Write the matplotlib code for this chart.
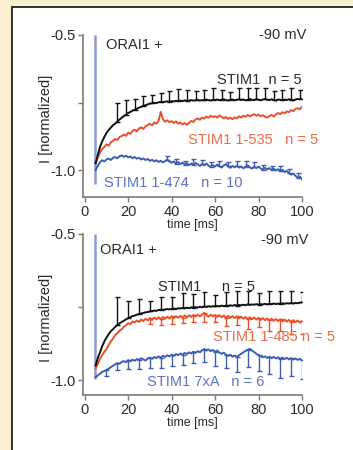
import numpy as np
import matplotlib
matplotlib.use("Agg")
import matplotlib.pyplot as plt
from matplotlib.patches import Rectangle

plt.rcParams['font.family'] = ['Liberation Sans', 'DejaVu Sans']
plt.rcParams['axes.unicode_minus'] = False

# ---------------- data ----------------
t = np.arange(5, 101)  # time [ms]

top_stim1 = [-0.975, -0.945, -0.915, -0.895, -0.878, -0.863, -0.852, -0.843, -0.834, -0.828,
             -0.821, -0.813, -0.807, -0.800, -0.795, -0.789, -0.785, -0.780, -0.777, -0.773,
             -0.769, -0.766, -0.762, -0.760, -0.757, -0.754, -0.753, -0.751, -0.752, -0.749,
             -0.748, -0.749, -0.747, -0.746, -0.747, -0.745, -0.746, -0.744, -0.745, -0.743,
             -0.745, -0.742, -0.744, -0.743, -0.741, -0.743, -0.742, -0.740, -0.743, -0.741,
             -0.742, -0.739, -0.741, -0.743, -0.740, -0.741, -0.739, -0.742, -0.740, -0.738,
             -0.741, -0.743, -0.740, -0.739, -0.742, -0.740, -0.738, -0.741, -0.739, -0.742,
             -0.740, -0.737, -0.740, -0.741, -0.738, -0.740, -0.742, -0.739, -0.737, -0.740,
             -0.741, -0.738, -0.741, -0.743, -0.739, -0.740, -0.742, -0.739, -0.741, -0.738,
             -0.740, -0.742, -0.739, -0.737, -0.738, -0.736]
top_535 = [-0.975, -0.955, -0.935, -0.922, -0.915, -0.905, -0.910, -0.898, -0.892, -0.885,
           -0.889, -0.878, -0.874, -0.869, -0.873, -0.862, -0.866, -0.855, -0.851, -0.857,
           -0.846, -0.842, -0.848, -0.838, -0.833, -0.829, -0.835, -0.824, -0.828, -0.818,
           -0.785, -0.812, -0.821, -0.816, -0.823, -0.819, -0.826, -0.820, -0.828, -0.824,
           -0.831, -0.826, -0.833, -0.825, -0.818, -0.822, -0.813, -0.809, -0.814, -0.806,
           -0.810, -0.802, -0.807, -0.799, -0.804, -0.801, -0.806, -0.798, -0.803, -0.809,
           -0.804, -0.811, -0.806, -0.812, -0.805, -0.808, -0.801, -0.806, -0.799, -0.803,
           -0.796, -0.801, -0.797, -0.793, -0.799, -0.795, -0.801, -0.797, -0.803, -0.806,
           -0.800, -0.796, -0.802, -0.794, -0.789, -0.793, -0.786, -0.790, -0.783, -0.786,
           -0.778, -0.782, -0.774, -0.771, -0.775, -0.766]
top_474 = [-1.000, -0.985, -0.972, -0.964, -0.968, -0.961, -0.958, -0.963, -0.955, -0.952,
           -0.957, -0.949, -0.946, -0.951, -0.947, -0.953, -0.950, -0.956, -0.952, -0.958,
           -0.955, -0.961, -0.957, -0.963, -0.959, -0.966, -0.962, -0.968, -0.964, -0.970,
           -0.966, -0.972, -0.967, -0.962, -0.969, -0.973, -0.968, -0.976, -0.971, -0.978,
           -0.973, -0.980, -0.975, -0.982, -0.976, -0.981, -0.974, -0.979, -0.985, -0.978,
           -0.983, -0.976, -0.984, -0.989, -0.982, -0.987, -0.980, -0.986, -0.991, -0.983,
           -0.978, -0.986, -0.992, -0.985, -0.990, -0.984, -0.991, -0.987, -0.994, -0.988,
           -0.983, -0.990, -0.995, -0.988, -0.993, -0.987, -0.994, -0.999, -0.992, -0.998,
           -0.993, -1.000, -0.995, -1.002, -0.997, -1.004, -0.999, -1.008, -1.003, -1.012,
           -1.017, -1.013, -1.022, -1.028, -1.024, -1.035]

top_err_t_stim1 = [15, 19, 23, 27, 31, 35, 39, 43, 47, 51, 55, 59, 63, 67, 71, 75, 79, 83, 87, 91, 95, 99]
top_err_stim1 = [0.07, 0.055, 0.04, 0.035, 0.03, 0.035, 0.04, 0.045, 0.04, 0.035, 0.04,
                 0.045, 0.035, 0.03, 0.04, 0.045, 0.04, 0.04, 0.035, 0.04, 0.045, 0.035]
top_err_t_474 = [38, 42, 46, 50, 54, 58, 62, 66, 70, 74, 78, 82, 86, 90, 94, 98]
top_err_474 = [0.015, 0.018, 0.015, 0.02, 0.016, 0.018, 0.02, 0.015, 0.018, 0.02,
               0.016, 0.018, 0.015, 0.02, 0.016, 0.018]

bot_stim1 = [-0.950, -0.925, -0.905, -0.885, -0.868, -0.855, -0.843, -0.833, -0.826, -0.818,
             -0.812, -0.806, -0.801, -0.797, -0.792, -0.788, -0.785, -0.781, -0.779, -0.776,
             -0.774, -0.772, -0.770, -0.768, -0.767, -0.765, -0.764, -0.762, -0.763, -0.760,
             -0.759, -0.760, -0.758, -0.757, -0.758, -0.756, -0.755, -0.757, -0.754, -0.755,
             -0.753, -0.754, -0.752, -0.754, -0.751, -0.752, -0.750, -0.752, -0.749, -0.751,
             -0.748, -0.750, -0.747, -0.749, -0.747, -0.748, -0.746, -0.748, -0.745, -0.747,
             -0.745, -0.746, -0.744, -0.746, -0.743, -0.745, -0.743, -0.744, -0.742, -0.744,
             -0.741, -0.743, -0.741, -0.742, -0.740, -0.742, -0.740, -0.741, -0.739, -0.741,
             -0.739, -0.740, -0.738, -0.740, -0.738, -0.739, -0.737, -0.739, -0.737, -0.738,
             -0.736, -0.738, -0.736, -0.737, -0.735, -0.734]
bot_485 = [-0.960, -0.945, -0.928, -0.915, -0.903, -0.894, -0.880, -0.868, -0.858, -0.846,
           -0.840, -0.831, -0.826, -0.818, -0.812, -0.805, -0.809, -0.799, -0.803, -0.796,
           -0.801, -0.793, -0.798, -0.790, -0.796, -0.788, -0.794, -0.786, -0.792, -0.785,
           -0.791, -0.784, -0.790, -0.783, -0.789, -0.782, -0.788, -0.781, -0.787, -0.780,
           -0.786, -0.779, -0.785, -0.778, -0.784, -0.777, -0.783, -0.776, -0.782, -0.776,
           -0.770, -0.777, -0.783, -0.776, -0.782, -0.777, -0.784, -0.778, -0.785, -0.779,
           -0.786, -0.780, -0.787, -0.781, -0.788, -0.782, -0.789, -0.783, -0.790, -0.784,
           -0.791, -0.785, -0.792, -0.786, -0.793, -0.787, -0.794, -0.788, -0.795, -0.789,
           -0.796, -0.790, -0.797, -0.791, -0.798, -0.792, -0.799, -0.793, -0.800, -0.794,
           -0.801, -0.795, -0.802, -0.796, -0.803, -0.798]
bot_7xa = [-0.990, -0.984, -0.978, -0.972, -0.969, -0.965, -0.961, -0.956, -0.951, -0.946,
           -0.942, -0.944, -0.938, -0.935, -0.939, -0.932, -0.936, -0.930, -0.934, -0.928,
           -0.931, -0.925, -0.929, -0.933, -0.926, -0.923, -0.927, -0.921, -0.925, -0.919,
           -0.923, -0.917, -0.921, -0.915, -0.919, -0.913, -0.917, -0.911, -0.915, -0.909,
           -0.913, -0.907, -0.911, -0.905, -0.909, -0.903, -0.907, -0.901, -0.905, -0.898,
           -0.894, -0.899, -0.895, -0.901, -0.897, -0.903, -0.899, -0.906, -0.910, -0.906,
           -0.913, -0.917, -0.913, -0.920, -0.916, -0.921, -0.915, -0.910, -0.905, -0.900,
           -0.896, -0.893, -0.899, -0.904, -0.910, -0.914, -0.918, -0.922, -0.919, -0.924,
           -0.920, -0.925, -0.921, -0.926, -0.922, -0.927, -0.923, -0.928, -0.924, -0.929,
           -0.925, -0.930, -0.926, -0.931, -0.927, -0.932]

bot_err_t_stim1 = [15, 20, 25, 30, 35, 40, 45, 50, 55, 60, 65, 70, 75, 80, 85, 90, 95, 100]
bot_err_stim1 = [0.095, 0.06, 0.05, 0.035, 0.045, 0.04, 0.05, 0.045, 0.05, 0.04, 0.045,
                 0.05, 0.045, 0.04, 0.045, 0.045, 0.04, 0.035]
bot_err_t_485 = [30, 35, 40, 45, 50, 55, 60, 65, 70, 75, 80, 85, 90, 95, 100]
bot_err_485 = [0.02, 0.02, 0.025, 0.02, 0.025, 0.03, 0.025, 0.03, 0.03, 0.035, 0.03,
               0.035, 0.04, 0.04, 0.045]
bot_err_t_7xa = [10, 15, 20, 25, 30, 35, 40, 45, 50, 55, 60, 65, 70, 75, 80, 85, 90, 95, 100]
bot_err_7xa = [0.02, 0.025, 0.03, 0.03, 0.035, 0.035, 0.04, 0.035, 0.04, 0.045, 0.05,
               0.045, 0.05, 0.06, 0.055, 0.06, 0.065, 0.06, 0.065]

stim_time = 4.6
xticks = [0, 20, 40, 60, 80, 100]
yticks = [-1.0, -0.75, -0.5]
yticklabels = ['-1.0', '', '-0.5']

# ---------------- style ----------------
C_BLACK = '#111111'
C_RED = '#e8502a'
C_BLUE = '#3d5cb2'
C_RED_TXT = '#ec6a45'
C_BLUE_TXT = '#5d72c2'
C_STIM = '#8c9bd0'
C_SPINE = '#7a7a7a'
C_TEXT = '#2a2a2a'
FS = 10.5

fig = plt.figure(figsize=(3.53, 4.50), dpi=100, facecolor='#faefcf')
fig.patches.append(Rectangle((11.5 / 353, -0.05), 1.2, 1.05 - 6.5 / 450,
                             transform=fig.transFigure, facecolor='white',
                             edgecolor='#222222', linewidth=1.3, zorder=-10))


def err_points(t_list, series):
    idx = [int(np.where(t == tt)[0][0]) for tt in t_list]
    return np.array(series)[idx]


def style_axes(ax, ylim):
    ax.set_xlim(-0.8, 100)
    ax.set_ylim(*ylim)
    for s in ['top', 'right']:
        ax.spines[s].set_visible(False)
    for s in ['left', 'bottom']:
        ax.spines[s].set_color(C_SPINE)
        ax.spines[s].set_linewidth(1.2)
    ax.set_xticks(xticks)
    ax.set_yticks(yticks)
    ax.set_yticklabels(yticklabels)
    ax.tick_params(axis='both', colors=C_SPINE, labelcolor=C_TEXT, labelsize=FS,
                   length=3.5, width=1.0, pad=2)
    ax.set_xlabel('time [ms]', fontsize=9, color=C_TEXT, labelpad=0)
    ax.set_ylabel('I [normalized]', fontsize=10.5, color=C_TEXT)
    ax.yaxis.set_label_coords(-0.135, 0.48)
    ax.patch.set_alpha(0)


def up_err(ax, t_list, series, err, color):
    y = err_points(t_list, series)
    ax.errorbar(t_list, y, yerr=[np.zeros(len(err)), err], fmt='none',
                ecolor=color, elinewidth=1.0, capsize=1.8, capthick=1.0, zorder=3)


def down_err(ax, t_list, series, err, color):
    y = err_points(t_list, series)
    ax.errorbar(t_list, y, yerr=[err, np.zeros(len(err))], fmt='none',
                ecolor=color, elinewidth=1.0, capsize=1.8, capthick=1.0, zorder=3)


# ---------------- top panel ----------------
ax1 = fig.add_axes([83 / 353, 1 - 197 / 450, 219 / 353, 162 / 450])
style_axes(ax1, (-1.1, -0.5))
ax1.vlines(stim_time, -1.05, -0.5, color=C_STIM, lw=1.8, zorder=1)
ax1.plot(t, top_474, color=C_BLUE, lw=1.4, zorder=2)
ax1.plot(t, top_535, color=C_RED, lw=1.4, zorder=2)
ax1.plot(t, top_stim1, color=C_BLACK, lw=1.4, zorder=4)
up_err(ax1, top_err_t_stim1, top_stim1, top_err_stim1, C_BLACK)
up_err(ax1, top_err_t_474, top_474, top_err_474, C_BLUE)

ax1.text(102, -0.5, '-90 mV', ha='right', va='center', fontsize=FS, color=C_TEXT)
ax1.text(9.7, -0.537, 'ORAI1 +', ha='left', va='center', fontsize=FS, color=C_TEXT)
ax1.text(100, -0.667, 'STIM1  n = 5', ha='right', va='center', fontsize=FS, color=C_TEXT)
ax1.text(107.4, -0.889, 'STIM1 1-535   n = 5', ha='right', va='center', fontsize=FS,
         color=C_RED_TXT, clip_on=False)
ax1.text(8.8, -1.048, 'STIM1 1-474   n = 10', ha='left', va='center', fontsize=FS,
         color=C_BLUE_TXT)

# ---------------- bottom panel ----------------
ax2 = fig.add_axes([83 / 353, 1 - 395 / 450, 219 / 353, 161 / 450])
style_axes(ax2, (-1.051, -0.5))
ax2.vlines(stim_time, -0.995, -0.5, color=C_STIM, lw=1.8, zorder=1)
ax2.plot(t, bot_7xa, color=C_BLUE, lw=1.4, zorder=2)
ax2.plot(t, bot_485, color=C_RED, lw=1.4, zorder=2)
ax2.plot(t, bot_stim1, color=C_BLACK, lw=1.4, zorder=4)
up_err(ax2, bot_err_t_stim1, bot_stim1, bot_err_stim1, C_BLACK)
down_err(ax2, bot_err_t_485, bot_485, bot_err_485, C_RED)
down_err(ax2, bot_err_t_7xa, bot_7xa, bot_err_7xa, C_BLUE)

ax2.text(102.8, -0.521, '-90 mV', ha='right', va='center', fontsize=FS, color=C_TEXT)
ax2.text(6.9, -0.555, 'ORAI1 +', ha='left', va='center', fontsize=FS, color=C_TEXT)
ax2.text(33.6, -0.682, 'STIM1     n = 5', ha='left', va='center', fontsize=FS, color=C_TEXT)
ax2.text(59, -0.853, 'STIM1 1-485 n = 5', ha='left', va='center', fontsize=FS,
         color=C_RED_TXT, clip_on=False)
ax2.text(28.6, -1.007, 'STIM1 7xA   n = 6', ha='left', va='center', fontsize=FS,
         color=C_BLUE_TXT)

fig.savefig('out.png', dpi=100, facecolor=fig.get_facecolor())
